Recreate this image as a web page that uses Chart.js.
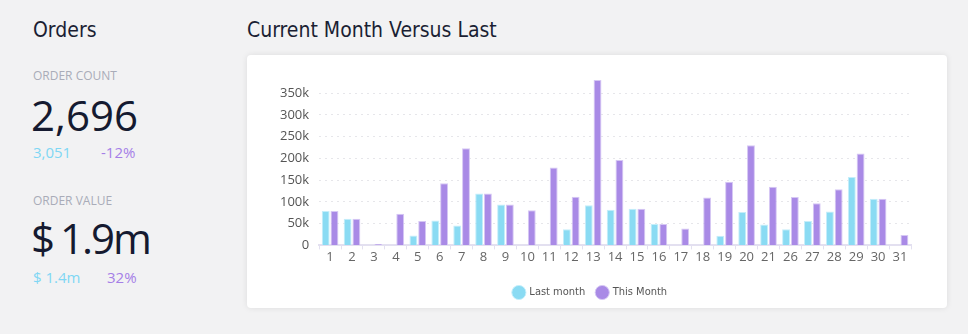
<html lang="en">
<head>
    <meta charset="UTF-8">
    <script src="https://cdn.jsdelivr.net/npm/chart.js"></script>
    <style>
        body {
            margin: 0;
            width: 968px;
            height: 334px;
            background-color: #f2f2f3;
            font-family: "Open Sans", Arial, sans-serif;
            position: relative;
            overflow: hidden;
        }
        .h { position: absolute; font-size: 20px; color: #1b1f33; white-space: nowrap; }
        .lbl { position: absolute; font-size: 12px; color: #a9acb8; white-space: nowrap; }
        .big { position: absolute; font-size: 42px; font-weight: 500; color: #151a30; white-space: nowrap; }
        .sm { position: absolute; font-size: 15px; white-space: nowrap; }
        .cy { color: #7fd7f4; }
        .pu { color: #a57fe7; }
        .card {
            position: absolute;
            left: 247px;
            top: 55px;
            width: 700px;
            height: 253px;
            background: #fff;
            border-radius: 4px;
            box-shadow: 0 0 6px rgba(0, 0, 0, 0.09);
        }
    </style>
</head>
<body>
    <div class="h" style="left:33px; top:18px; font-family:'Liberation Sans Narrow','DejaVu Sans Condensed',sans-serif; font-size:21px;">Orders</div>
    <div class="lbl" style="left:33px; top:67px;">ORDER COUNT</div>
    <div class="big" style="left:31px; top:86px;">2,696</div>
    <div class="sm cy" style="left:33px; top:142px;">3,051</div>
    <div class="sm pu" style="left:101px; top:142px;">-12%</div>
    <div class="lbl" style="left:33px; top:192px;">ORDER VALUE</div>
    <div class="big" style="left:31px; top:209px; word-spacing:-2px; letter-spacing:-2px;">$ 1.9m</div>
    <div class="sm cy" style="left:33px; top:267px;">$ 1.4m</div>
    <div class="sm pu" style="left:107px; top:267px;">32%</div>

    <div class="h" style="left:247px; top:18px; font-family:'Liberation Sans Narrow','DejaVu Sans Condensed',sans-serif; font-size:21px;">Current Month Versus Last</div>

    <div class="card">
        <canvas id="chart" width="700" height="253"></canvas>
    </div>

    <script>
        const days = ["1", "2", "3", "4", "5", "6", "7", "8", "9", "10", "11", "12", "13", "14", "15", "16", "17", "18", "19", "20", "21", "26", "27", "28", "29", "30", "31"];
        const lastMonth = [79000, 61000, 0, 0, 23000, 57000, 46000, 119000, 94000, 0, 0, 37000, 92000, 82000, 84000, 49000, 0, 0, 22000, 77000, 48000, 37000, 56000, 78000, 157000, 107000, 0];
        const thisMonth = [79000, 61000, 3000, 73000, 56000, 143000, 223000, 119000, 94000, 81000, 179000, 112000, 380000, 196000, 84000, 49000, 39000, 110000, 146000, 230000, 135000, 111000, 97000, 129000, 211000, 107000, 24000];
        const yTicks = [0, 50000, 100000, 150000, 200000, 250000, 300000, 350000];
        const yMax = 380000;

        const tickFont = { family: "'Open Sans', Arial, sans-serif", size: 13 };

        new Chart(document.getElementById("chart").getContext("2d"), {
            type: "bar",
            data: {
                labels: days,
                datasets: [
                    {
                        label: "Last month",
                        data: lastMonth,
                        backgroundColor: "#8adbf3",
                        borderColor: "#c5eefa",
                        borderWidth: 1
                    },
                    {
                        label: "This Month",
                        data: thisMonth,
                        backgroundColor: "#a98ae6",
                        borderColor: "#d6c8f4",
                        borderWidth: 1
                    }
                ]
            },
            options: {
                responsive: false,
                animation: false,
                layout: { padding: { left: 23, right: 36, top: 25, bottom: 0 } },
                plugins: {
                    legend: {
                        position: "bottom",
                        labels: {
                            usePointStyle: true,
                            pointStyle: "circle",
                            boxWidth: 10,
                            boxHeight: 10,
                            padding: 12,
                            color: "#555",
                            font: { family: "'Liberation Sans Narrow', 'DejaVu Sans Condensed', sans-serif", size: 11 }
                        }
                    },
                    tooltip: { enabled: false }
                },
                scales: {
                    x: {
                        afterFit: (scale) => { scale.height += 10; },
                        grid: {
                            drawOnChartArea: false,
                            tickLength: 4,
                            color: "#e3e0f0"
                        },
                        border: { color: "#e3e0f0", width: 2 },
                        ticks: { color: "#666", font: tickFont, padding: 0 }
                    },
                    y: {
                        min: 0,
                        max: yMax,
                        afterBuildTicks: (scale) => {
                            scale.ticks = yTicks.map(v => ({ value: v }));
                        },
                        grid: {
                            color: "#e6e6ea",
                            drawTicks: false
                        },
                        border: { display: false, dash: [2, 4] },
                        ticks: {
                            padding: 10,
                            color: "#555",
                            font: tickFont,
                            callback: (v) => v === 0 ? "0" : (v / 1000) + "k"
                        }
                    }
                }
            }
        });
    </script>
</body>
</html>
